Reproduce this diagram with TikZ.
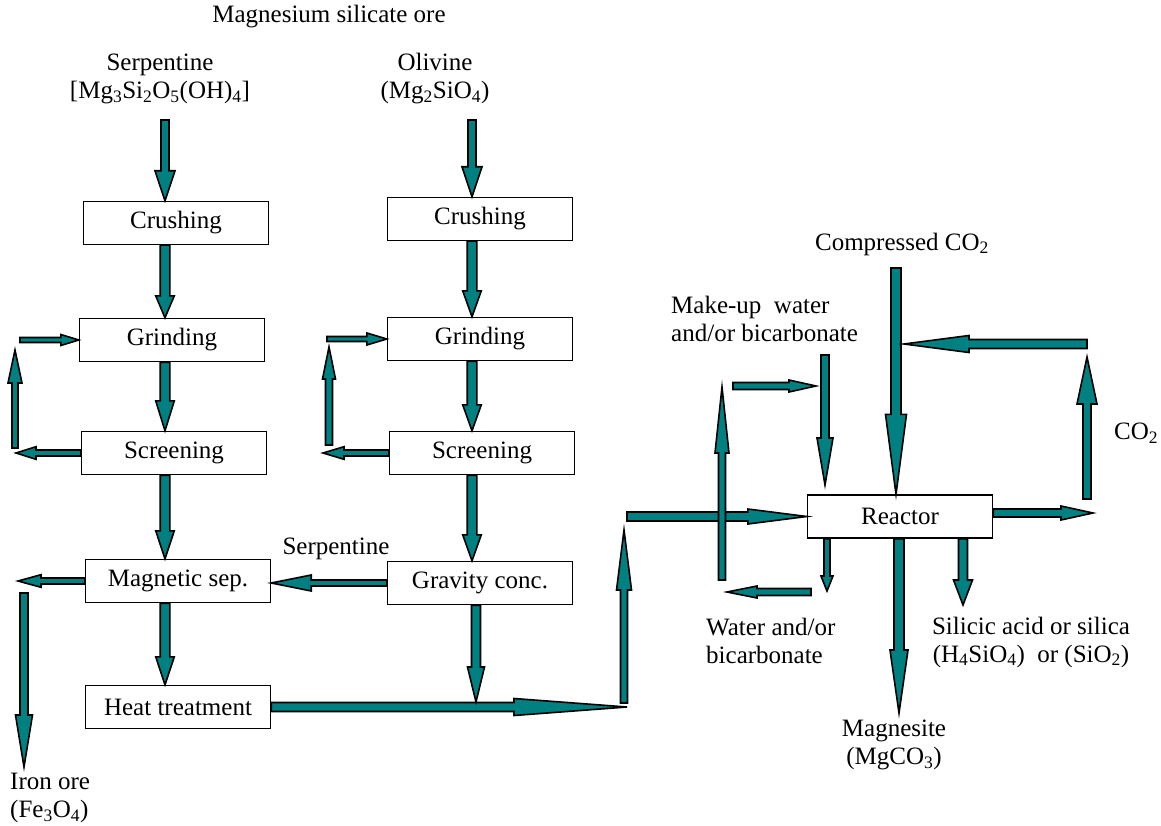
\documentclass[tikz,border=0pt]{standalone}
\usepackage{fontspec}
\setmainfont{Liberation Serif}
\usepackage{xcolor}
\definecolor{flowteal}{HTML}{008080}
\usepackage{tikz}
\usetikzlibrary{calc}

\begin{document}
\begin{tikzpicture}[x=1pt, y=-1pt,
    every node/.style={font=\fontsize{25}{28}\selectfont},
    box/.style={draw, line width=1.4pt, fill=white, minimum width=185pt,
                minimum height=43pt, inner sep=0pt},
    lbl/.style={align=center, inner sep=0pt},
    shaftw/.store in=\fasw, headw/.store in=\fahw, headl/.store in=\fahl,
    flow/.style={draw=black, fill=flowteal, line width=1.6pt, line join=miter,
      shaftw=4.8pt, headw=9.3pt, headl=26pt,
      to path={($(\tikztotarget)!\fahl!(\tikztostart)$) coordinate (fah)
        ($(\tikztostart)!\fasw!90:(\tikztotarget)$)
        -- ($(fah)!\fasw!90:(\tikztotarget)$) -- ($(fah)!\fahw!90:(\tikztotarget)$)
        -- (\tikztotarget)
        -- ($(fah)!\fahw!-90:(\tikztotarget)$) -- ($(fah)!\fasw!-90:(\tikztotarget)$)
        -- ($(\tikztostart)!\fasw!-90:(\tikztotarget)$) -- cycle}},
    smallflow/.style={flow, shaftw=3pt, headw=6.3pt, headl=20pt}]
  \useasboundingbox (0,0) rectangle (1161,826);

  \node[lbl] (title) at (329,17) {Magnesium silicate ore};
  \node[lbl] (serp)  at (160,79) {Serpentine\\{}[Mg\textsubscript{3}Si\textsubscript{2}O\textsubscript{5}(OH)\textsubscript{4}]};
  \node[lbl] (olv)   at (435,79) {Olivine\\(Mg\textsubscript{2}SiO\textsubscript{4})};

  \node[box] (crush1)  at (176,223) {Crushing};
  \node[box] (grind1)  at (172,340) {Grinding};
  \node[box] (screen1) at (174,453) {Screening};
  \node[box] (magsep)  at (178,581) {Magnetic sep.};
  \node[box] (heat)    at (178,707) {Heat treatment};
  \node[box] (crush2)  at (480,219) {Crushing};
  \node[box] (grind2)  at (480,339) {Grinding};
  \node[box] (screen2) at (482,453) {Screening};
  \node[box] (gravity) at (480,583) {Gravity conc.};
  \node[box] (reactor) at (900,516.5) {Reactor};

  \node[lbl] (serplbl) at (336,549) {Serpentine};
  \node[lbl] (comprlbl) at (902,244) {Compressed CO\textsubscript{2}};
  \node[lbl, align=left, anchor=west] (makeup) at (671,319) {Make-up\ \ water\\and/or bicarbonate};
  \node[lbl, anchor=west] (co2lbl) at (1114,433) {CO\textsubscript{2}};
  \node[lbl, align=left, anchor=west] (waterout) at (706,641) {Water and/or\\bicarbonate};
  \node[lbl] (silica) at (1031,642) {Silicic acid or silica\\(H\textsubscript{4}SiO\textsubscript{4})\ \ or (SiO\textsubscript{2})};
  \node[lbl] (magnesite) at (894,745) {Magnesite\\(MgCO\textsubscript{3})};
  \node[lbl, align=left, anchor=west] (ironore) at (10,798) {Iron ore\\(Fe\textsubscript{3}O\textsubscript{4})};

  \coordinate (serptop) at (165,120);
  \coordinate (olvtop)  at (472,120);
  \coordinate (grvout)  at (476,702);
  \coordinate (loop1a) at (16,456);
  \coordinate (loop1b) at (15,448);
  \coordinate (loop1c) at (15,350);
  \coordinate (loop1d) at (20,341);
  \coordinate (loop2a) at (323,453);
  \coordinate (loop2b) at (329,445);
  \coordinate (loop2c) at (329,347);
  \coordinate (loop2d) at (327,339);
  \coordinate (iron0) at (18,584);
  \coordinate (iron1) at (24,593);
  \coordinate (iron2) at (24,767);
  \coordinate (heatend) at (627,707);
  \coordinate (rise0) at (624,703);
  \coordinate (rise1) at (624,530);
  \coordinate (feed0) at (627,516.5);
  \coordinate (wloop0) at (722,580);
  \coordinate (wloop1) at (722,387);
  \coordinate (wloop2) at (733,386);
  \coordinate (wloop3) at (816,386);
  \coordinate (mkup0) at (825,355);
  \coordinate (mkup1) at (825,485);
  \coordinate (cmp0) at (896,268);
  \coordinate (co2a) at (1093,513);
  \coordinate (co2b) at (1087,499);
  \coordinate (co2c) at (1087,357);
  \coordinate (co2d) at (1087,344);
  \coordinate (co2e) at (904,344);
  \coordinate (wout) at (827,591);
  \coordinate (wback0) at (811,592);
  \coordinate (wback1) at (727,592);
  \coordinate (mgc) at (899,713);
  \coordinate (sil) at (963,605);

  \draw[flow, headl=30pt, headw=10pt, shaftw=4pt] (serptop) to (crush1.north -| serptop);
  \draw[flow, headl=30pt, headw=10pt, shaftw=4pt] (olvtop) to (crush2.north -| olvtop);
  \draw[flow, headl=22pt] (crush1.south -| serptop) to (grind1.north -| serptop);
  \draw[flow, headl=30pt] (grind1.south -| serptop) to (screen1.north -| serptop);
  \draw[flow, headl=28pt] (screen1.south -| serptop) to (magsep.north -| serptop);
  \draw[flow, headl=28pt] (magsep.south -| serptop) to (heat.north -| serptop);
  \draw[flow] (crush2.south -| olvtop) to (grind2.north -| olvtop);
  \draw[flow] (grind2.south -| olvtop) to (screen2.north -| olvtop);
  \draw[flow] (screen2.south -| olvtop) to (gravity.north -| olvtop);

  \draw[smallflow] (screen1.west) to (screen1.west -| loop1a);
  \draw[smallflow, headl=33pt, headw=7pt] (loop1b) to (loop1c);
  \draw[smallflow, headl=18pt, headw=5.5pt, shaftw=2.5pt] (loop1d |- grind1.west) to (grind1.west);
  \draw[smallflow, headl=21pt] (screen2.west) to (screen2.west -| loop2a);
  \draw[smallflow, headl=32pt, headw=6.5pt, shaftw=3.5pt] (loop2b) to (loop2c);
  \draw[smallflow, headl=20pt, headw=6pt, shaftw=2.5pt] (loop2d |- grind2.west) to (grind2.west);

  \draw[flow, headl=40pt, headw=8pt, shaftw=3pt] (gravity.west) to (gravity.west -| magsep.east);
  \draw[smallflow, headl=23pt] (magsep.west) to (magsep.west -| iron0);
  \draw[flow, headl=52pt, headw=8.5pt, shaftw=4pt] (iron1) to (iron2);

  \draw[flow, headl=113pt, headw=8.5pt, shaftw=4.5pt] (heat.east) to (heatend);
  \draw[flow, headl=35pt, headw=8.5pt, shaftw=4.5pt] (gravity.south -| grvout) to (grvout);
  \draw[flow, headl=60pt, headw=7.5pt, shaftw=3.5pt] (rise0) to (rise1);
  \draw[flow, headl=59pt, headw=7.5pt, shaftw=4.5pt] (feed0) to (reactor.west);
  \draw[flow, headl=66pt, headw=7pt, shaftw=3.5pt] (wloop0) to (wloop1);
  \draw[smallflow, headl=27pt, headw=6pt, shaftw=3.5pt] (wloop2) to (wloop3);
  \draw[flow, headl=47pt, headw=8pt, shaftw=4pt] (mkup0) to (mkup1);
  \draw[flow, headl=80pt, headw=10.5pt, shaftw=5pt] (cmp0) to (reactor.north -| cmp0);
  \draw[flow, headl=32pt, headw=7pt, shaftw=4pt] (reactor.east |- co2a) to (co2a);
  \draw[flow, headl=47pt, headw=10pt, shaftw=4pt] (co2b) to (co2c);
  \draw[flow, headl=65pt, headw=8.5pt, shaftw=4.5pt] (co2d) to (co2e);
  \draw[smallflow, headl=15pt, headw=6pt, shaftw=3pt] (reactor.south -| wout) to (wout);
  \draw[smallflow, headl=30pt, headw=6pt, shaftw=3.5pt] (wback0) to (wback1);
  \draw[flow, headl=63pt, headw=9pt, shaftw=5pt] (reactor.south -| mgc) to (mgc);
  \draw[flow, headl=25pt, headw=9.5pt, shaftw=4.5pt] (reactor.south -| sil) to (sil);
\end{tikzpicture}
\end{document}
